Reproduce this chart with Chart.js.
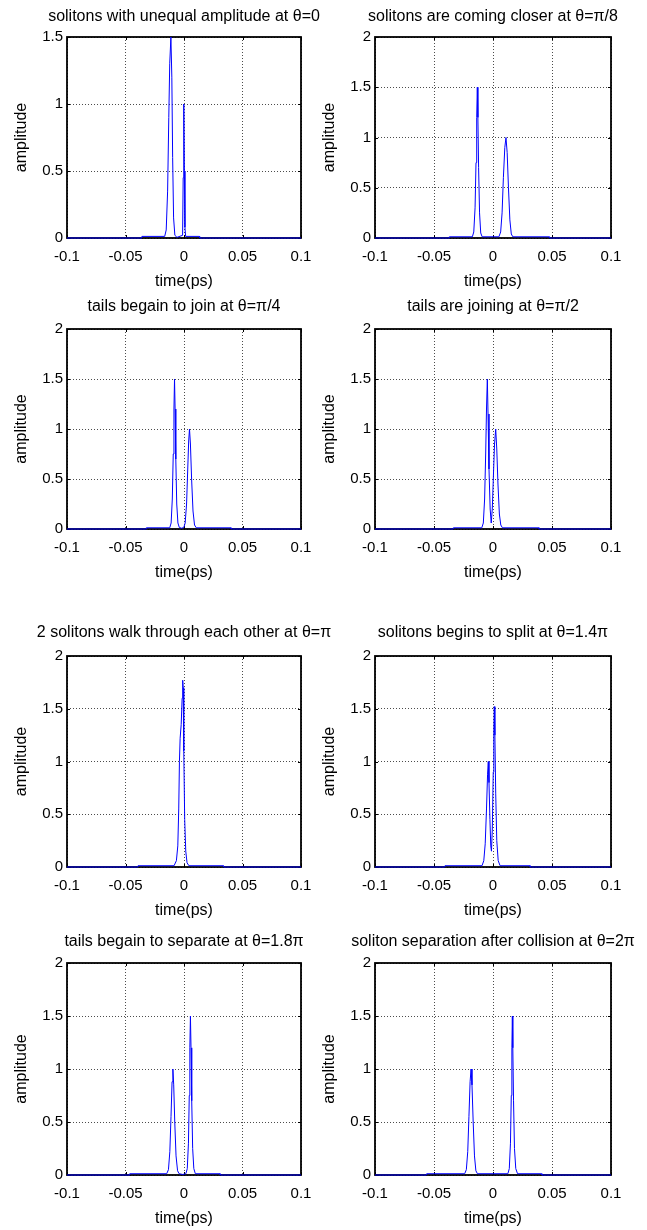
<!DOCTYPE html>
<html>
<head>
<meta charset="utf-8">
<script src="https://cdn.jsdelivr.net/npm/chart.js@4.4.1/dist/chart.umd.min.js"></script>
<style>
  body { margin: 0; background: #fff; }
  #page { position: relative; width: 647px; height: 1230px; overflow: hidden; }
  #page canvas { position: absolute; }
</style>
</head>
<body>
<div id="page"></div>
<script>
var titles = [
  "solitons with unequal amplitude at \u03B8=0",
  "solitons are coming closer at \u03B8=\u03C0/8",
  "tails begain to join at \u03B8=\u03C0/4",
  "tails are joining at \u03B8=\u03C0/2",
  "2 solitons walk through each other at \u03B8=\u03C0",
  "solitons begins to split at \u03B8=1.4\u03C0",
  "tails begain to separate at \u03B8=1.8\u03C0",
  "soliton separation after collision at \u03B8=2\u03C0"
];
var xLabel = "time(ps)";
var yLabel = "amplitude";
var xTicks = [-0.1, -0.05, 0, 0.05, 0.1];
var yTicksFirst = [0, 0.5, 1, 1.5];
var yTicks = [0, 0.5, 1, 1.5, 2];

// time (ps) and amplitude
var t1 = [-0.1, -0.0362, -0.036, -0.0165, -0.0152, -0.0140, -0.0130, -0.0122, -0.0112, -0.0104, -0.0097, -0.0089, -0.0078, -0.0060, -0.0012, -0.0007, -0.0002, 0.0003, 0.0008, 0.0014, 0.0132, 0.0134, 0.1];
var a1 = [0, 0, 0.012, 0.012, 0.06, 0.35, 0.9, 1.3, 1.5, 1.2, 0.6, 0.15, 0.02, 0.005, 0.02, 0.45, 1.0, 0.5, 0.08, 0.012, 0.012, 0, 0];

var t2 = [-0.1, -0.0372, -0.037, -0.0175, -0.0163, -0.0152, -0.0144, -0.0138, -0.0133, -0.0128, -0.0122, -0.0114, -0.0104, -0.0092, 0.0050, 0.0065, 0.0077, 0.0088, 0.0100, 0.0110, 0.0120, 0.0131, 0.0143, 0.0155, 0.0168, 0.0477, 0.0479, 0.1];
var a2 = [0, 0, 0.012, 0.012, 0.06, 0.3, 0.75, 1.2, 1.5, 1.2, 0.7, 0.25, 0.05, 0.012, 0.012, 0.06, 0.25, 0.6, 0.9, 1.0, 0.85, 0.5, 0.18, 0.04, 0.012, 0.012, 0, 0];

var t3 = [-0.1, -0.0324, -0.0322, -0.0122, -0.0110, -0.0100, -0.0092, -0.0086, -0.0081, -0.0076, -0.0070, -0.0062, -0.0052, -0.0040, -0.0020, -0.0002, 0.0010, 0.0022, 0.0032, 0.0040, 0.0047, 0.0055, 0.0065, 0.0077, 0.0090, 0.0105, 0.0402, 0.0404, 0.1];
var a3 = [0, 0, 0.012, 0.012, 0.06, 0.3, 0.75, 1.2, 1.5, 1.2, 0.7, 0.25, 0.06, 0.015, 0.008, 0.015, 0.06, 0.25, 0.6, 0.88, 1.0, 0.85, 0.5, 0.18, 0.04, 0.012, 0.012, 0, 0];

var t4 = [-0.1, -0.0338, -0.0336, -0.0095, -0.0082, -0.0071, -0.0062, -0.0055, -0.0048, -0.0042, -0.0034, -0.0024, -0.0015, -0.0006, 0.0004, 0.0013, 0.0023, 0.0032, 0.0042, 0.0054, 0.0066, 0.0080, 0.039, 0.0392, 0.1];
var a4 = [0, 0, 0.012, 0.012, 0.06, 0.3, 0.75, 1.2, 1.5, 1.15, 0.6, 0.2, 0.06, 0.2, 0.55, 0.85, 1.0, 0.8, 0.45, 0.15, 0.04, 0.012, 0.012, 0, 0];

var t5 = [-0.1, -0.0395, -0.0393, -0.0085, -0.0065, -0.0053, -0.0045, -0.0039, -0.0033, -0.0024, -0.0016, -0.0011, -0.0007, -0.0002, 0.0006, 0.0015, 0.0026, 0.0042, 0.0336, 0.0338, 0.1];
var a5 = [0, 0, 0.012, 0.012, 0.06, 0.2, 0.55, 1.0, 1.22, 1.35, 1.6, 1.77, 1.7, 1.1, 0.45, 0.15, 0.04, 0.012, 0.012, 0, 0];

var t6 = [-0.1, -0.0409, -0.0407, -0.0093, -0.0078, -0.0066, -0.0055, -0.0046, -0.0040, -0.0034, -0.0026, -0.0019, -0.0013, -0.0006, 0.0002, 0.0007, 0.0011, 0.0016, 0.0023, 0.0032, 0.0044, 0.0060, 0.0314, 0.0316, 0.1];
var a6 = [0, 0, 0.012, 0.012, 0.06, 0.22, 0.55, 0.88, 1.0, 0.8, 0.45, 0.2, 0.15, 0.35, 0.9, 1.3, 1.52, 1.25, 0.7, 0.25, 0.06, 0.012, 0.012, 0, 0];

var t7 = [-0.1, -0.0466, -0.0464, -0.0148, -0.0133, -0.0121, -0.0111, -0.0102, -0.0095, -0.0088, -0.0079, -0.0068, -0.0055, -0.0042, -0.0010, 0.0016, 0.0028, 0.0038, 0.0045, 0.0050, 0.0055, 0.0060, 0.0066, 0.0074, 0.0084, 0.0097, 0.0308, 0.0310, 0.1];
var a7 = [0, 0, 0.012, 0.012, 0.05, 0.22, 0.55, 0.88, 1.0, 0.85, 0.5, 0.18, 0.04, 0.012, 0.005, 0.012, 0.06, 0.3, 0.75, 1.2, 1.5, 1.2, 0.7, 0.25, 0.06, 0.012, 0.012, 0, 0];

var t8 = [-0.1, -0.0564, -0.0562, -0.0240, -0.0226, -0.0214, -0.0204, -0.0194, -0.0186, -0.0178, -0.0168, -0.0157, -0.0145, -0.0132, 0.0126, 0.0138, 0.0148, 0.0155, 0.0160, 0.0164, 0.0168, 0.0174, 0.0182, 0.0193, 0.0208, 0.0413, 0.0415, 0.1];
var a8 = [0, 0, 0.012, 0.012, 0.05, 0.22, 0.55, 0.88, 1.0, 0.85, 0.5, 0.18, 0.04, 0.012, 0.012, 0.06, 0.3, 0.75, 1.2, 1.5, 1.2, 0.7, 0.25, 0.06, 0.012, 0.012, 0, 0];

var times = [t1, t2, t3, t4, t5, t6, t7, t8];
var amps = [a1, a2, a3, a4, a5, a6, a7, a8];

var FONT = '"Liberation Sans", Arial, Helvetica, sans-serif';
Chart.defaults.font.family = FONT;
Chart.defaults.color = "#000";

// page layout: plot box of each column / row, and the canvas around it
var cols = [
  { l: 67, r: 301, cl: 0, cw: 345 },
  { l: 375, r: 611, cl: 310, cw: 337 }
];
var rows = [
  { t: 37, b: 238, tc: 17, ct: 0, ch: 300 },
  { t: 329, b: 529, tc: 307, ct: 290, ch: 300 },
  { t: 656, b: 867, tc: 633, ct: 605, ch: 320 },
  { t: 963, b: 1175, tc: 942, ct: 920, ch: 310 }
];
var Y_AXIS_W = 56;
var X_AXIS_H = 55;

// box with inward ticks (matlab style) and the panel title
var panelDecor = {
  id: "panelDecor",
  beforeDatasetsDraw: function (chart) {
    var a = chart.chartArea;
    var ctx = chart.ctx;
    var sx = chart.scales.x, sy = chart.scales.y;
    ctx.save();
    ctx.strokeStyle = "#000";
    ctx.lineWidth = 1;
    sx.ticks.forEach(function (tk) {
      var px = Math.round(sx.getPixelForValue(tk.value)) + 0.5;
      ctx.beginPath();
      ctx.moveTo(px, a.bottom); ctx.lineTo(px, a.bottom - 3);
      ctx.moveTo(px, a.top); ctx.lineTo(px, a.top + 3);
      ctx.stroke();
    });
    sy.ticks.forEach(function (tk) {
      var py = Math.round(sy.getPixelForValue(tk.value)) + 0.5;
      ctx.beginPath();
      ctx.moveTo(a.left, py); ctx.lineTo(a.left + 3, py);
      ctx.moveTo(a.right, py); ctx.lineTo(a.right - 3, py);
      ctx.stroke();
    });
    ctx.lineWidth = 1.8;
    ctx.strokeRect(a.left, a.top, a.right - a.left, a.bottom - a.top);
    ctx.restore();
  },
  afterDraw: function (chart, args, opts) {
    var a = chart.chartArea;
    var ctx = chart.ctx;
    ctx.save();
    ctx.fillStyle = "#000";
    ctx.font = "16px " + FONT;
    ctx.textAlign = "center";
    ctx.textBaseline = "middle";
    ctx.fillText(opts.text, (a.left + a.right) / 2, opts.y);
    ctx.restore();
  }
};

var page = document.getElementById("page");

for (var i = 0; i < 8; i++) {
  var col = cols[i % 2];
  var row = rows[Math.floor(i / 2)];
  var canvas = document.createElement("canvas");
  canvas.width = col.cw;
  canvas.height = row.ch;
  canvas.style.left = col.cl + "px";
  canvas.style.top = row.ct + "px";
  page.appendChild(canvas);

  var pts = times[i].map(function (t, k) { return { x: t, y: amps[i][k] }; });
  var yt = i === 0 ? yTicksFirst : yTicks;

  new Chart(canvas.getContext("2d"), {
    type: "line",
    data: {
      datasets: [{
        data: pts,
        borderColor: "#0000ff",
        borderWidth: 1,
        pointRadius: 0,
        tension: 0,
        fill: false,
        clip: 4
      }]
    },
    options: {
      responsive: false,
      animation: false,
      events: [],
      layout: {
        padding: {
          left: col.l - col.cl - Y_AXIS_W,
          right: col.cl + col.cw - col.r,
          top: row.t - row.ct,
          bottom: row.ct + row.ch - row.b - X_AXIS_H
        }
      },
      plugins: {
        legend: { display: false },
        tooltip: { enabled: false },
        panelDecor: { text: titles[i], y: row.tc - row.ct }
      },
      scales: {
        x: {
          type: "linear",
          min: xTicks[0],
          max: xTicks[xTicks.length - 1],
          afterBuildTicks: function (s) {
            s.ticks = xTicks.map(function (v) { return { value: v }; });
          },
          afterFit: function (s) { s.height = X_AXIS_H; },
          ticks: {
            autoSkip: false,
            maxRotation: 0,
            padding: 10,
            font: { size: 15 },
            color: "#000",
            callback: function (v) { return String(v); }
          },
          grid: { color: "rgba(0,0,0,0.7)", lineWidth: 1, drawTicks: false },
          border: { display: false, dash: [1, 2] },
          title: {
            display: true,
            text: xLabel,
            color: "#000",
            font: { size: 16 },
            padding: { top: 0, bottom: 1.4 }
          }
        },
        y: {
          type: "linear",
          min: yt[0],
          max: yt[yt.length - 1],
          afterBuildTicks: (function (arr) {
            return function (s) {
              s.ticks = arr.map(function (v) { return { value: v }; });
            };
          })(yt),
          afterFit: function (s) { s.width = Y_AXIS_W; },
          ticks: {
            padding: 4,
            font: { size: 15 },
            color: "#000",
            callback: function (v) { return String(v); }
          },
          grid: { color: "rgba(0,0,0,0.7)", lineWidth: 1, drawTicks: false },
          border: { display: false, dash: [1, 2] },
          title: {
            display: true,
            text: yLabel,
            color: "#000",
            font: { size: 16 },
            padding: { top: 1.4, bottom: 0 }
          }
        }
      }
    },
    plugins: [panelDecor]
  });
}
</script>
</body>
</html>
